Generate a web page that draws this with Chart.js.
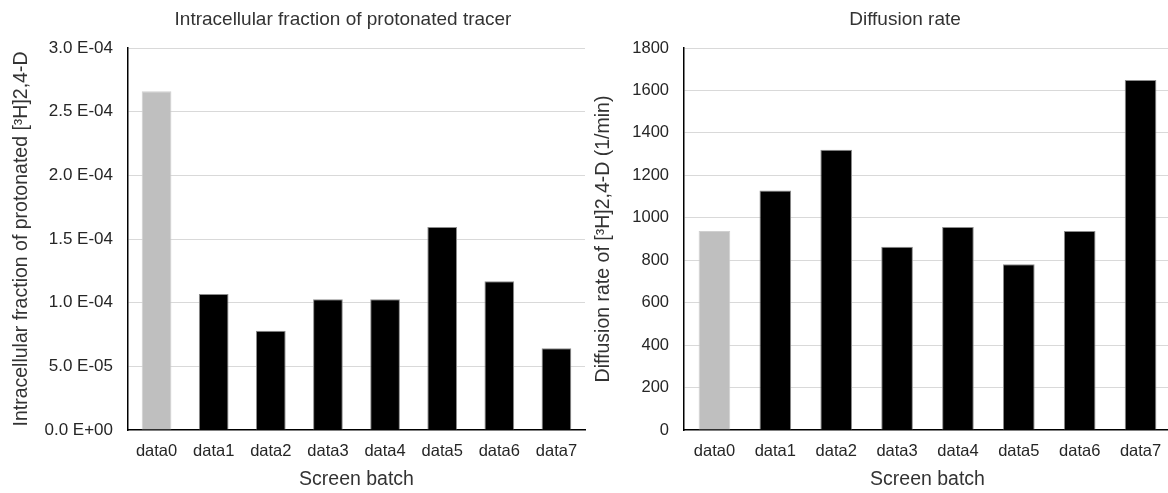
<!DOCTYPE html>
<html>
<head>
<meta charset="utf-8">
<script src="https://cdn.jsdelivr.net/npm/chart.js@4.4.1/dist/chart.umd.min.js"></script>
<style>
  html, body { margin: 0; padding: 0; background: #fff; overflow: hidden; }
  canvas { position: absolute; top: 0; }
  #fractionCanvas { left: 0; }
  #diffusionCanvas { left: 590px; }
</style>
</head>
<body>
<canvas id="fractionCanvas" width="686" height="493"></canvas>
<canvas id="diffusionCanvas" width="630" height="493"></canvas>
<script>
// categories and values
var categories = ["data0", "data1", "data2", "data3", "data4", "data5", "data6", "data7"];

var fractionValues = [2.66e-4, 1.068e-4, 0.78e-4, 1.027e-4, 1.027e-4, 1.595e-4, 1.168e-4, 0.642e-4];
var fractionTickValues = [0, 5e-5, 1e-4, 1.5e-4, 2e-4, 2.5e-4, 3e-4];
var fractionTickLabels = ["0.0 E+00", "5.0 E-05", "1.0 E-04", "1.5 E-04", "2.0 E-04", "2.5 E-04", "3.0 E-04"];

var diffusionValues = [938, 1129, 1321, 863, 957, 781, 938, 1649];
var diffusionTickValues = [0, 200, 400, 600, 800, 1000, 1200, 1400, 1600, 1800];
var diffusionTickLabels = ["0", "200", "400", "600", "800", "1000", "1200", "1400", "1600", "1800"];

var barColors = ["#bfbfbf", "#000", "#000", "#000", "#000", "#000", "#000", "#000"];
var edgeColors = ["#d0d0d0", "#8c8c8c", "#8c8c8c", "#8c8c8c", "#8c8c8c", "#8c8c8c", "#8c8c8c", "#8c8c8c"];

Chart.defaults.font.family = "'Liberation Sans', Arial, sans-serif";
Chart.defaults.color = "#262626";

function makeChart(canvasId, opt) {
  var ctx = document.getElementById(canvasId).getContext("2d");
  return new Chart(ctx, {
    type: "bar",
    data: {
      labels: categories,
      datasets: [{
        data: opt.values,
        backgroundColor: barColors,
        borderColor: edgeColors,
        borderWidth: 1,
        barPercentage: 0.52,
        categoryPercentage: 1
      }]
    },
    options: {
      responsive: false,
      animation: false,
      devicePixelRatio: 1,
      layout: { padding: 0 },
      plugins: {
        legend: { display: false },
        tooltip: { enabled: false },
        title: {
          display: true,
          text: opt.title,
          color: "#333",
          font: { size: 19, weight: "normal" },
          padding: { top: 8.6, bottom: 16.6 }
        }
      },
      scales: {
        x: {
          afterFit: function (scale) { scale.height = 63; },
          grid: { display: false, drawTicks: false },
          border: { display: true, color: "#000", width: 1.5 },
          ticks: {
            padding: 11.5,
            font: { size: 16.5 }
          },
          title: {
            display: true,
            text: "Screen batch",
            color: "#333",
            font: { size: 19.5 },
            padding: { top: 4, bottom: 1.3 }
          }
        },
        y: {
          min: 0,
          max: opt.yMax,
          afterBuildTicks: function (scale) {
            scale.ticks = opt.tickValues.map(function (v) { return { value: v }; });
          },
          afterFit: function (scale) { scale.width = opt.yWidth; },
          grid: {
            drawTicks: false,
            color: function (c) { return c.tick && c.tick.value === 0 ? "rgba(0,0,0,0)" : "#d9d9d9"; },
            lineWidth: 1
          },
          border: { display: true, color: "#000", width: 1.5 },
          ticks: {
            padding: 15,
            font: { size: opt.tickSize },
            callback: function (v, i) { return opt.tickLabels[i]; }
          },
          title: {
            display: true,
            text: opt.yTitle,
            color: "#333",
            font: { size: 19.5 },
            padding: { top: opt.yTitlePad, bottom: 4 }
          }
        },
        // empty box on the right, only to set where the plot ends
        pad: {
          position: "right",
          afterFit: function (scale) { scale.width = opt.rightPad; },
          grid: { display: false, drawTicks: false },
          border: { display: false },
          ticks: { display: false }
        }
      }
    }
  });
}

var fractionChart = makeChart("fractionCanvas", {
  values: fractionValues,
  title: "Intracellular fraction of protonated tracer",
  yTitle: "Intracellular fraction of protonated [³H]2,4-D",
  yMax: 3e-4,
  tickValues: fractionTickValues,
  tickLabels: fractionTickLabels,
  yWidth: 128,
  tickSize: 17,
  yTitlePad: 9.8,
  rightPad: 101
});

var diffusionChart = makeChart("diffusionCanvas", {
  values: diffusionValues,
  title: "Diffusion rate",
  yTitle: "Diffusion rate of [³H]2,4-D (1/min)",
  yMax: 1800,
  tickValues: diffusionTickValues,
  tickLabels: diffusionTickLabels,
  yWidth: 94,
  tickSize: 16.5,
  yTitlePad: 1.7,
  rightPad: 49
});
</script>
</body>
</html>
